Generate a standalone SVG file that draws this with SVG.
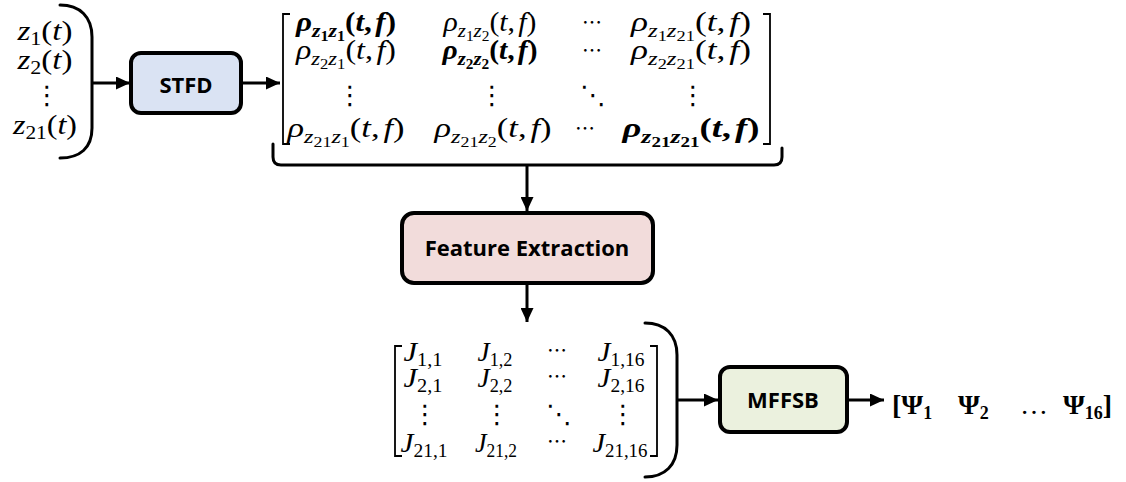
<svg xmlns="http://www.w3.org/2000/svg" width="1126" height="482" viewBox="0 0 1126 482">
  <style>
    .bg { fill: #ffffff; }
    .box { stroke: #000; stroke-width: 4; }
    .label { font-family: "Open Sans", "Liberation Sans", sans-serif; font-weight: 700; font-size: 22px; fill: #000; text-anchor: middle; dominant-baseline: central; }
    .wire { fill: none; stroke: #000; stroke-width: 3; }
    .delim { fill: none; stroke: #000; stroke-width: 3; stroke-linecap: round; }
    .brk { fill: none; stroke: #000; stroke-width: 1.8; }
    .m { font-family: "Liberation Serif", "DejaVu Serif", serif; font-style: italic; font-size: 27px; fill: #000; text-anchor: middle; }
    .b { font-weight: 700; }
    .n { font-style: normal; }
    .s { font-size: 19px; }
    .ss { font-size: 14px; font-style: normal; }
    .zsub { font-size: 18px; font-style: normal; }
    .jsub { font-size: 18px; font-style: normal; }
    .dots { font-family: "Noto Sans CJK JP", "DejaVu Sans", sans-serif; font-style: normal; font-size: 20px; fill: #000; text-anchor: middle; }
    .vd { font-size: 26px; }
    .psi { font-family: "Liberation Serif", "DejaVu Serif", serif; font-weight: 700; font-size: 28px; fill: #000; }
    .psub { font-size: 18px; }
  </style>
  <defs>
    <marker id="head" markerUnits="userSpaceOnUse" markerWidth="15" markerHeight="13" refX="14" refY="6.5" orient="auto">
      <path d="M0,0 L14,6.5 L0,13 Z" fill="#000"/>
    </marker>
  </defs>

  <rect class="bg" x="0" y="0" width="1126" height="482"/>

  <!-- input signals z_i(t) -->
  <g id="signals">
    <text class="m" x="45" y="40" textLength="55" lengthAdjust="spacingAndGlyphs">z<tspan class="zsub" dy="5">1</tspan><tspan class="n" dy="-5">(</tspan>t<tspan class="n">)</tspan></text>
    <text class="m" x="45" y="69" textLength="55" lengthAdjust="spacingAndGlyphs">z<tspan class="zsub" dy="5">2</tspan><tspan class="n" dy="-5">(</tspan>t<tspan class="n">)</tspan></text>
    <text class="dots vd" x="47" y="104">⋮</text>
    <text class="m" x="45" y="134" textLength="64" lengthAdjust="spacingAndGlyphs">z<tspan class="zsub" dy="5">21</tspan><tspan class="n" dy="-5">(</tspan>t<tspan class="n">)</tspan></text>
    <path class="delim" d="M60,5 C80,5 92,17 92,37 L92,128 C92,148 80,158 60,158"/>
  </g>

  <!-- STFD block -->
  <g id="stfd">
    <rect class="box" x="131" y="53" width="110" height="60" rx="10" fill="#dae3f3"/>
    <text class="label" x="186" y="84">STFD</text>
  </g>

  <!-- STFD output matrix -->
  <g id="stfd-matrix">
    <path class="brk" d="M290,14 L283,14 L283,144 L290,144"/>
    <path class="brk" d="M763,14 L770,14 L770,144 L763,144"/>

    <text class="m b" x="346" y="31" textLength="100" lengthAdjust="spacingAndGlyphs">ρ<tspan class="s" dy="6">z</tspan><tspan class="ss" dy="4">1</tspan><tspan class="s" dy="-4">z</tspan><tspan class="ss" dy="4">1</tspan><tspan class="n" dy="-10">(</tspan>t<tspan class="n">,</tspan><tspan dx="3">f</tspan><tspan class="n">)</tspan></text>
    <text class="m" x="490" y="31" textLength="93" lengthAdjust="spacingAndGlyphs">ρ<tspan class="s" dy="6">z</tspan><tspan class="ss" dy="4">1</tspan><tspan class="s" dy="-4">z</tspan><tspan class="ss" dy="4">2</tspan><tspan class="n" dy="-10">(</tspan>t<tspan class="n">,</tspan><tspan dx="3">f</tspan><tspan class="n">)</tspan></text>
    <text class="dots" x="592" y="30">⋯</text>
    <text class="m" x="691" y="31" textLength="120" lengthAdjust="spacingAndGlyphs">ρ<tspan class="s" dy="6">z</tspan><tspan class="ss" dy="4">1</tspan><tspan class="s" dy="-4">z</tspan><tspan class="ss" dy="4">21</tspan><tspan class="n" dy="-10">(</tspan>t<tspan class="n">,</tspan><tspan dx="3">f</tspan><tspan class="n">)</tspan></text>

    <text class="m" x="346" y="59" textLength="100" lengthAdjust="spacingAndGlyphs">ρ<tspan class="s" dy="6">z</tspan><tspan class="ss" dy="4">2</tspan><tspan class="s" dy="-4">z</tspan><tspan class="ss" dy="4">1</tspan><tspan class="n" dy="-10">(</tspan>t<tspan class="n">,</tspan><tspan dx="3">f</tspan><tspan class="n">)</tspan></text>
    <text class="m b" x="490" y="59" textLength="95" lengthAdjust="spacingAndGlyphs">ρ<tspan class="s" dy="6">z</tspan><tspan class="ss" dy="4">2</tspan><tspan class="s" dy="-4">z</tspan><tspan class="ss" dy="4">2</tspan><tspan class="n" dy="-10">(</tspan>t<tspan class="n">,</tspan><tspan dx="3">f</tspan><tspan class="n">)</tspan></text>
    <text class="dots" x="592" y="58">⋯</text>
    <text class="m" x="691" y="59" textLength="120" lengthAdjust="spacingAndGlyphs">ρ<tspan class="s" dy="6">z</tspan><tspan class="ss" dy="4">2</tspan><tspan class="s" dy="-4">z</tspan><tspan class="ss" dy="4">21</tspan><tspan class="n" dy="-10">(</tspan>t<tspan class="n">,</tspan><tspan dx="3">f</tspan><tspan class="n">)</tspan></text>

    <text class="dots vd" x="350" y="104">⋮</text>
    <text class="dots vd" x="492" y="104">⋮</text>
    <text class="dots vd" x="593" y="104">⋱</text>
    <text class="dots vd" x="693" y="104">⋮</text>

    <text class="m" x="346" y="137" textLength="117" lengthAdjust="spacingAndGlyphs">ρ<tspan class="s" dy="6">z</tspan><tspan class="ss" dy="4">21</tspan><tspan class="s" dy="-4">z</tspan><tspan class="ss" dy="4">1</tspan><tspan class="n" dy="-10">(</tspan>t<tspan class="n">,</tspan><tspan dx="3">f</tspan><tspan class="n">)</tspan></text>
    <text class="m" x="493" y="137" textLength="117" lengthAdjust="spacingAndGlyphs">ρ<tspan class="s" dy="6">z</tspan><tspan class="ss" dy="4">21</tspan><tspan class="s" dy="-4">z</tspan><tspan class="ss" dy="4">2</tspan><tspan class="n" dy="-10">(</tspan>t<tspan class="n">,</tspan><tspan dx="3">f</tspan><tspan class="n">)</tspan></text>
    <text class="dots" x="585" y="136">⋯</text>
    <text class="m b" x="691" y="137" textLength="137" lengthAdjust="spacingAndGlyphs">ρ<tspan class="s" dy="6">z</tspan><tspan class="ss" dy="4">21</tspan><tspan class="s" dy="-4">z</tspan><tspan class="ss" dy="4">21</tspan><tspan class="n" dy="-10">(</tspan>t<tspan class="n">,</tspan><tspan dx="3">f</tspan><tspan class="n">)</tspan></text>

    <!-- underbrace collecting the matrix -->
    <path class="delim" d="M273,144 L273,157 Q273,165 281,165 L774,165 Q782,165 782,157 L782,148"/>
  </g>

  <!-- Feature Extraction block -->
  <g id="feature-extraction">
    <rect class="box" x="402" y="213" width="251" height="70" rx="12" fill="#f2dcdb"/>
    <text class="label" x="527" y="247">Feature Extraction</text>
  </g>

  <!-- feature matrix J -->
  <g id="feature-matrix">
    <path class="brk" d="M402,346 L395,346 L395,456 L402,456"/>
    <path class="brk" d="M650,346 L657,346 L657,456 L650,456"/>

    <text class="m" x="423" y="361" textLength="39" lengthAdjust="spacingAndGlyphs">J<tspan class="jsub" dy="5">1,1</tspan></text>
    <text class="m" x="495" y="361" textLength="35" lengthAdjust="spacingAndGlyphs">J<tspan class="jsub" dy="5">1,2</tspan></text>
    <text class="dots" x="557" y="358">⋯</text>
    <text class="m" x="621" y="361" textLength="47" lengthAdjust="spacingAndGlyphs">J<tspan class="jsub" dy="5">1,16</tspan></text>

    <text class="m" x="423" y="387" textLength="39" lengthAdjust="spacingAndGlyphs">J<tspan class="jsub" dy="5">2,1</tspan></text>
    <text class="m" x="495" y="387" textLength="35" lengthAdjust="spacingAndGlyphs">J<tspan class="jsub" dy="5">2,2</tspan></text>
    <text class="dots" x="557" y="384">⋯</text>
    <text class="m" x="621" y="387" textLength="47" lengthAdjust="spacingAndGlyphs">J<tspan class="jsub" dy="5">2,16</tspan></text>

    <text class="dots vd" x="425" y="423">⋮</text>
    <text class="dots vd" x="497" y="423">⋮</text>
    <text class="dots vd" x="559" y="423">⋱</text>
    <text class="dots vd" x="623" y="423">⋮</text>

    <text class="m" x="424" y="452" textLength="47" lengthAdjust="spacingAndGlyphs">J<tspan class="jsub" dy="5">21,1</tspan></text>
    <text class="m" x="496" y="452" textLength="42" lengthAdjust="spacingAndGlyphs">J<tspan class="jsub" dy="5">21,2</tspan></text>
    <text class="dots" x="557" y="449">⋯</text>
    <text class="m" x="620" y="452" textLength="55" lengthAdjust="spacingAndGlyphs">J<tspan class="jsub" dy="5">21,16</tspan></text>

    <path class="delim" d="M645,323 C665,323 677,335 677,355 L677,445 C677,465 665,477 645,477"/>
  </g>

  <!-- MFFSB block -->
  <g id="mffsb">
    <rect class="box" x="720" y="367" width="127" height="65" rx="10" fill="#ebf1de"/>
    <text class="label" x="783" y="399">MFFSB</text>
  </g>

  <!-- selected output vector -->
  <g id="output">
    <text class="psi" y="414"><tspan x="892">[Ψ</tspan><tspan class="psub" dy="5">1</tspan><tspan x="958" dy="-5">Ψ</tspan><tspan class="psub" dy="5">2</tspan><tspan x="1020" dy="-5" font-weight="400">…</tspan><tspan x="1063">Ψ</tspan><tspan class="psub" dy="5">16</tspan><tspan dy="-5">]</tspan></text>
  </g>

  <!-- connectors -->
  <g id="connectors">
    <line class="wire" x1="92" y1="83" x2="130" y2="83" marker-end="url(#head)"/>
    <line class="wire" x1="241" y1="83" x2="280" y2="83" marker-end="url(#head)"/>
    <line class="wire" x1="527" y1="165" x2="527" y2="211" marker-end="url(#head)"/>
    <line class="wire" x1="527" y1="283" x2="527" y2="322" marker-end="url(#head)"/>
    <line class="wire" x1="677" y1="400" x2="718" y2="400" marker-end="url(#head)"/>
    <line class="wire" x1="847" y1="400" x2="884" y2="400" marker-end="url(#head)"/>
  </g>
</svg>
